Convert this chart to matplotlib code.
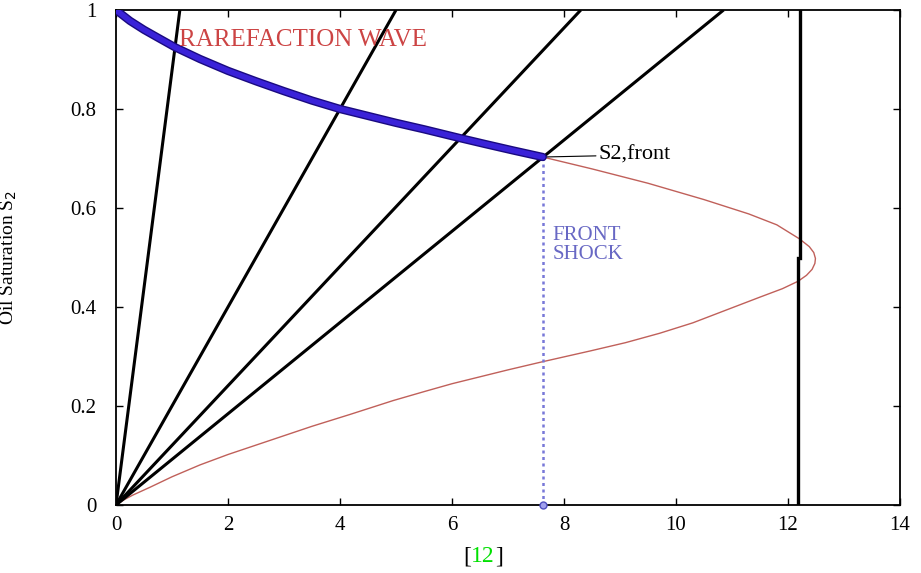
import matplotlib
matplotlib.use("Agg")
import matplotlib.pyplot as plt

# ---- data ----
# characteristic lines from the origin: x value reached at S2 = 1
char_x_at_top = [1.14, 5.0, 8.3, 10.85]

# rarefaction wave (thick blue curve)
rare_x = [0.0, 0.25, 0.5, 0.75, 1.05, 1.5, 2.0, 2.5, 3.0, 3.5, 4.0, 4.5, 5.0, 5.5,
          6.15, 6.6, 7.1, 7.62]
rare_y = [1.0, 0.978, 0.960, 0.944, 0.925, 0.901, 0.877, 0.856, 0.836, 0.817, 0.800,
          0.786, 0.772, 0.759, 0.741, 0.729, 0.716, 0.703]

# full (multi-valued) solution curve (thin red)
red_x = [0.0, 0.15, 0.3, 0.61, 1.0, 1.5, 2.0, 2.5, 3.0, 3.5, 4.18, 4.95, 5.5, 6.0,
         6.5, 7.0, 7.6, 8.46, 9.1, 9.71, 10.3, 10.9, 11.5, 11.9, 12.18, 12.33, 12.43,
         12.48, 12.49, 12.46, 12.38, 12.2, 11.8, 11.3, 10.5, 9.5, 8.5, 7.62]
red_y = [0.0, 0.011, 0.02, 0.036, 0.057, 0.081, 0.102, 0.121, 0.14, 0.159, 0.183, 0.211,
         0.229, 0.245, 0.259, 0.273, 0.289, 0.311, 0.328, 0.347, 0.368, 0.394, 0.42,
         0.437, 0.452, 0.464, 0.476, 0.488, 0.498, 0.510, 0.522, 0.538, 0.566, 0.588,
         0.617, 0.650, 0.679, 0.703]

# front shock
front_x = 7.62
front_s = 0.703

# vertical line (upper and lower part)
vert_upper_x = 12.22
vert_lower_x = 12.18
vert_break_s = 0.5

x_ticks = [0, 2, 4, 6, 8, 10, 12, 14]
y_ticks = [0, 0.2, 0.4, 0.6, 0.8, 1]
y_tick_labels = ["0", "0.2", "0.4", "0.6", "0.8", "1"]

serif = "Liberation Serif"

fig = plt.figure(figsize=(9.21, 5.73), dpi=100)
ax = fig.add_axes([116/921, (573-505)/573, (900-116)/921, (505-10)/573])

# characteristic lines
for xt in char_x_at_top:
    ax.plot([0, xt], [0, 1], color="black", lw=2.2, solid_capstyle="butt", zorder=3)

# vertical line
ax.plot([vert_upper_x, vert_upper_x], [vert_break_s, 1], color="black", lw=2.4, zorder=3)
ax.plot([vert_lower_x, vert_lower_x], [0, vert_break_s], color="black", lw=2.4, zorder=3)

# red curve
ax.plot(red_x, red_y, color="#c0605a", lw=1.0, zorder=2, solid_joinstyle="round")

# rarefaction (blue thick with darker edge)
ax.plot(rare_x, rare_y, color="#1a0a80", lw=6.0, solid_capstyle="round",
        solid_joinstyle="round", zorder=4)
ax.plot(rare_x, rare_y, color="#3a22d8", lw=4.0, solid_capstyle="round",
        solid_joinstyle="round", zorder=5)

# dotted shock line
ax.plot([front_x, front_x], [0, front_s], color="#7878d8", lw=1.8, ls=(0, (1.2, 1.4)), zorder=3)
ax.plot([front_x], [0], marker="o", ms=5, mfc="#a0a0ee", mec="#5050c0", mew=1.0,
        clip_on=False, zorder=6)

# annotation
ax.annotate("S2,front", xy=(front_x, front_s), xytext=(8.62, 0.707),
            fontsize=16, family=serif, color="black", va="center", ha="left",
            arrowprops=dict(arrowstyle="-", color="black", lw=0.8, shrinkA=0, shrinkB=0))

ax.text(1.12, 0.94, "RAREFACTION WAVE", color="#cc4444", fontsize=18, family=serif,
        va="center", ha="left", zorder=4)
ax.text(7.8, 0.525, "FRONT\nSHOCK", color="#6868c4", fontsize=15, family=serif,
        va="center", ha="left", linespacing=1.0)

ax.set_xlim(0, 14)
ax.set_ylim(0, 1)
ax.set_xticks(x_ticks)
ax.set_xticklabels([str(v) for v in x_ticks])
ax.set_yticks(y_ticks)
ax.set_yticklabels(y_tick_labels)
ax.tick_params(direction="in", length=5, width=1, top=True, right=True,
               labelsize=15)
ax.tick_params(axis="x", pad=8)
ax.tick_params(axis="y", pad=14)
for lab in ax.get_xticklabels() + ax.get_yticklabels():
    lab.set_family(serif)
for sp in ax.spines.values():
    sp.set_linewidth(1.3)

ax.set_ylabel("Oil Saturation S$_2$", family=serif, fontsize=14)
ax.yaxis.set_label_coords(-0.124, 0.5)

# caption [12]
fig.canvas.draw()
r = fig.canvas.get_renderer()
t12 = fig.text(483/921, 1 - 557/573, "12", color="#00e000", fontsize=17, family=serif,
               ha="center", va="center")
fig.canvas.draw()
bb = t12.get_window_extent(r)
fig.text(bb.x0/921, 1 - 557/573, "[", color="black", fontsize=17, family=serif,
         ha="right", va="center")
fig.text(bb.x1/921, 1 - 557/573, "]", color="black", fontsize=17, family=serif,
         ha="left", va="center")

fig.savefig("out.png", dpi=100)
